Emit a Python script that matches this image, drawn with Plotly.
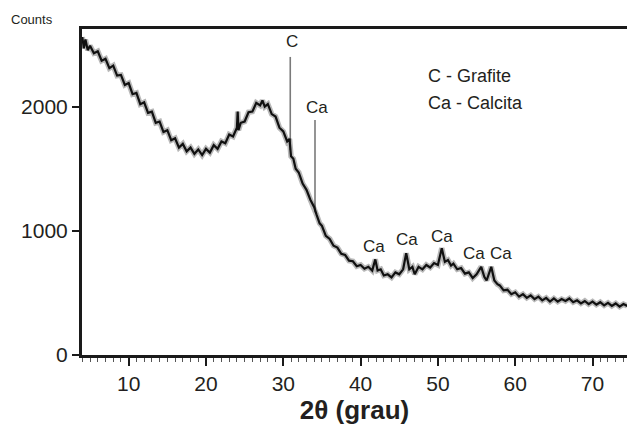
import plotly.graph_objects as go

# ---- data ----
two_theta = [4.0, 4.2, 4.4, 4.7, 5.0, 5.5, 6.0, 6.5, 7.0, 7.5, 8.0, 8.5, 9.0, 9.5,
             10.0, 10.5, 11.0, 11.5, 12.0, 12.5, 13.0, 13.5, 14.0, 14.5, 15.0, 15.5,
             16.0, 16.5, 17.0, 17.5, 18.0, 18.5, 19.0, 19.5, 20.0, 20.5, 21.0, 21.5,
             22.0, 22.5, 23.0, 23.5, 24.0, 24.1, 24.2, 24.5, 25.0, 25.5, 26.0, 26.5,
             27.0, 27.3, 27.6, 28.0, 28.5, 29.0, 29.5, 30.0, 30.5, 30.8, 31.0, 31.3,
             31.6, 32.0, 32.5, 33.0, 33.5, 34.0, 34.3, 34.7, 35.0, 35.5, 36.0, 36.5,
             37.0, 37.5, 38.0, 38.5, 39.0, 39.5, 40.0, 40.5, 41.0, 41.5, 41.9, 42.2,
             42.6, 43.0, 43.5, 44.0, 44.5, 45.0, 45.5, 45.9, 46.3, 46.7, 47.0, 47.5,
             48.0, 48.5, 49.0, 49.5, 50.0, 50.5, 50.9, 51.3, 51.7, 52.0, 52.5, 53.0,
             53.5, 54.0, 54.5, 55.0, 55.6, 56.0, 56.3, 56.9, 57.3, 57.7, 58.0, 58.5,
             59.0, 59.5, 60.0, 60.5, 61.0, 61.5, 62.0, 62.5, 63.0, 63.5, 64.0, 64.5,
             65.0, 65.5, 66.0, 66.5, 67.0, 67.5, 68.0, 68.5, 69.0, 69.5, 70.0, 70.5,
             71.0, 71.5, 72.0, 72.5, 73.0, 73.5, 74.0, 74.5]
counts = [2560, 2470, 2540, 2455, 2490, 2430, 2445, 2370, 2385, 2310, 2330, 2250, 2255, 2175,
          2190, 2100, 2110, 2020, 2035, 1950, 1960, 1870, 1880, 1795, 1810, 1730,
          1745, 1670, 1700, 1640, 1670, 1620, 1655, 1610, 1660, 1630, 1690, 1660,
          1720, 1705, 1775, 1760, 1830, 1960, 1810, 1870, 1880, 1955, 1960, 2030,
          2010, 2050, 2000, 2020, 1940, 1920, 1830, 1800, 1720, 1740, 1600, 1580,
          1500, 1470, 1380, 1330, 1250, 1190, 1130, 1060, 1040, 960, 935, 880,
          865, 815, 805, 760, 755, 715, 725, 695, 710, 680, 770, 680,
          690, 640, 650, 625, 665, 650, 690, 820, 690, 710, 650, 710,
          690, 725, 705, 740, 725, 860, 750, 765, 720, 735, 690, 700,
          655, 665, 620, 650, 710, 630, 600, 710, 600, 570, 560, 520,
          525, 490, 505, 470, 490, 460, 480, 450, 470, 440, 460, 430,
          455, 430, 450, 435, 455, 425, 440, 415, 435, 410, 430, 405,
          425, 400, 420, 395, 415, 390, 410, 395]

# sharp reflections drawn as thin spikes
spike_pos = [30.9, 34.1]
spike_base = [1650, 1150]
spike_top = [2400, 1892]

# phase labels
label_text = ["C", "Ca", "Ca", "Ca", "Ca", "Ca", "Ca"]
label_x = [31.1, 34.3, 41.7, 46.0, 50.5, 54.7, 58.2]
label_y = [2523, 1990, 874, 933, 952, 820, 820]

legend_lines = ["C - Grafite", "Ca - Calcita"]
legend_y = [2247, 2030]

x_ticks = [10, 20, 30, 40, 50, 60, 70]
y_ticks = [0, 1000, 2000]

FONT = "Liberation Sans, Arial, sans-serif"
INK = "#231f20"

fig = go.Figure()

sx, sy = [], []
for p, b, t in zip(spike_pos, spike_base, spike_top):
    sx += [p, p, None]
    sy += [b, t, None]
fig.add_trace(go.Scatter(x=sx, y=sy, mode="lines",
                         line=dict(color="#7a7a7a", width=1.6),
                         hoverinfo="skip", showlegend=False))

# soft halo giving the noisy, fuzzy look of the scan
fig.add_trace(go.Scatter(x=two_theta, y=counts, mode="lines",
                         line=dict(color="rgba(0,0,0,0.28)", width=5.5),
                         hoverinfo="skip", showlegend=False))
fig.add_trace(go.Scatter(x=two_theta, y=counts, mode="lines",
                         line=dict(color="#111111", width=2.2),
                         showlegend=False))

for t, x, y in zip(label_text, label_x, label_y):
    fig.add_annotation(x=x, y=y, text=t, showarrow=False,
                       font=dict(family=FONT, size=17, color=INK),
                       xanchor="center", yanchor="middle")

for t, y in zip(legend_lines, legend_y):
    fig.add_annotation(x=48.5, y=y, text=t, showarrow=False,
                       font=dict(family=FONT, size=18, color=INK),
                       xanchor="left", yanchor="middle")

fig.add_annotation(xref="paper", yref="paper", x=-0.092, y=1.028,
                   text="Counts", showarrow=False,
                   font=dict(family=FONT, size=13, color=INK),
                   xanchor="center", yanchor="middle")

fig.update_layout(
    width=627, height=429,
    margin=dict(l=82, r=0, t=29, b=74),
    paper_bgcolor="white", plot_bgcolor="white",
    font=dict(family=FONT, color=INK),
    xaxis=dict(
        range=[3.96, 74.46], showgrid=False, zeroline=False,
        showline=True, linecolor="#1a1a1a", linewidth=3, mirror=True,
        ticks="outside", ticklen=8, tickwidth=1.5, tickcolor="#1a1a1a",
        tickvals=x_ticks, tickfont=dict(family=FONT, size=21, color=INK),
        minor=dict(ticks="outside", ticklen=4, tickwidth=1, tickcolor="#555555", dtick=1),
        title=dict(text="<b>2θ (grau)</b>", font=dict(family=FONT, size=26, color=INK),
                   standoff=4),
    ),
    yaxis=dict(
        range=[0, 2625], showgrid=False, zeroline=False,
        showline=True, linecolor="#1a1a1a", linewidth=3, mirror=False,
        ticks="outside", ticklen=7, tickwidth=1.5, tickcolor="#1a1a1a",
        tickvals=y_ticks, tickfont=dict(family=FONT, size=21, color=INK),
    ),
)

fig.write_html("out.html")
